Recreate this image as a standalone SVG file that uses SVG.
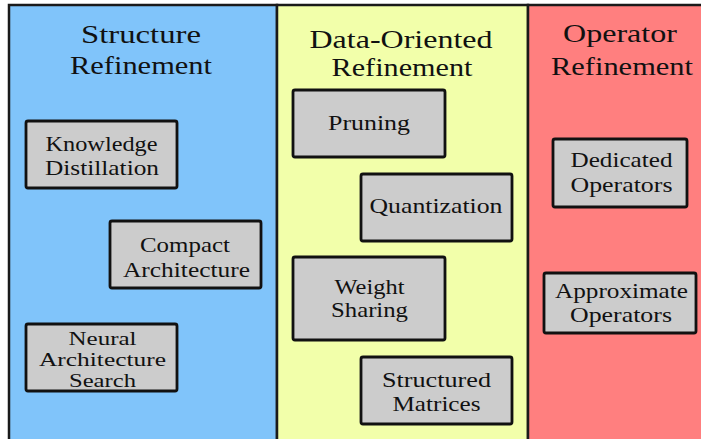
<svg xmlns="http://www.w3.org/2000/svg" width="701" height="439" viewBox="0 0 701 439">
<style>
.panel{stroke:#1a1a1a;stroke-width:2.5}
.box rect{fill:#cccccc;stroke:#111;stroke-width:2.8}
text{fill:#111;text-anchor:middle;font-family:Liberation Serif,DejaVu Serif,Tinos,serif}
.t{font-size:26px}
.b{font-size:21px}
.s{font-size:19px}
</style>
<rect width="701" height="439" fill="#ffffff"/>
<g id="panel-structure">
<rect class="panel" x="9" y="5" width="268" height="445" fill="#80c4fa"/>
<text class="t" x="141" y="43" textLength="120" lengthAdjust="spacingAndGlyphs">Structure</text>
<text class="t" x="141" y="74" textLength="142" lengthAdjust="spacingAndGlyphs">Refinement</text>
</g>
<g id="panel-data">
<rect class="panel" x="277" y="5" width="251" height="445" fill="#f2ffaa"/>
<text class="t" x="401" y="48" textLength="183" lengthAdjust="spacingAndGlyphs">Data-Oriented</text>
<text class="t" x="402" y="76" textLength="141" lengthAdjust="spacingAndGlyphs">Refinement</text>
</g>
<g id="panel-operator">
<rect class="panel" x="528" y="5" width="190" height="445" fill="#ff7f7f"/>
<text class="t" x="620" y="42" textLength="114" lengthAdjust="spacingAndGlyphs">Operator</text>
<text class="t" x="622" y="75" textLength="142" lengthAdjust="spacingAndGlyphs">Refinement</text>
</g>
<g id="knowledge-distillation" class="box">
<rect x="26" y="121" width="151" height="67" rx="2"/>
<text class="b" x="101.5" y="151" textLength="112" lengthAdjust="spacingAndGlyphs">Knowledge</text>
<text class="b" x="102" y="175" textLength="114" lengthAdjust="spacingAndGlyphs">Distillation</text>
</g>
<g id="compact-architecture" class="box">
<rect x="110" y="221" width="151" height="67" rx="2"/>
<text class="b" x="185" y="252" textLength="90" lengthAdjust="spacingAndGlyphs">Compact</text>
<text class="b" x="186.5" y="277" textLength="127" lengthAdjust="spacingAndGlyphs">Architecture</text>
</g>
<g id="neural-architecture-search" class="box">
<rect x="26" y="324" width="151" height="67" rx="2"/>
<text class="s" x="102.5" y="345" textLength="68" lengthAdjust="spacingAndGlyphs">Neural</text>
<text class="s" x="102.5" y="366" textLength="127" lengthAdjust="spacingAndGlyphs">Architecture</text>
<text class="s" x="102.5" y="387" textLength="67" lengthAdjust="spacingAndGlyphs">Search</text>
</g>
<g id="pruning" class="box">
<rect x="293" y="90" width="152" height="67" rx="2"/>
<text class="b" x="369" y="130" textLength="82" lengthAdjust="spacingAndGlyphs">Pruning</text>
</g>
<g id="quantization" class="box">
<rect x="361" y="174" width="151" height="67" rx="2"/>
<text class="b" x="436" y="213" textLength="133" lengthAdjust="spacingAndGlyphs">Quantization</text>
</g>
<g id="weight-sharing" class="box">
<rect x="293" y="257" width="152" height="83" rx="2"/>
<text class="b" x="369.5" y="294" textLength="70" lengthAdjust="spacingAndGlyphs">Weight</text>
<text class="b" x="369.5" y="317" textLength="77" lengthAdjust="spacingAndGlyphs">Sharing</text>
</g>
<g id="structured-matrices" class="box">
<rect x="361" y="357" width="151" height="67" rx="2"/>
<text class="b" x="436.5" y="387" textLength="109" lengthAdjust="spacingAndGlyphs">Structured</text>
<text class="b" x="436.5" y="411" textLength="88" lengthAdjust="spacingAndGlyphs">Matrices</text>
</g>
<g id="dedicated-operators" class="box">
<rect x="553" y="139" width="134" height="68" rx="2"/>
<text class="b" x="621.5" y="167" textLength="102" lengthAdjust="spacingAndGlyphs">Dedicated</text>
<text class="b" x="621.5" y="192" textLength="102" lengthAdjust="spacingAndGlyphs">Operators</text>
</g>
<g id="approximate-operators" class="box">
<rect x="544" y="273" width="152" height="60" rx="2"/>
<text class="b" x="621.5" y="298" textLength="133" lengthAdjust="spacingAndGlyphs">Approximate</text>
<text class="b" x="621" y="322" textLength="102" lengthAdjust="spacingAndGlyphs">Operators</text>
</g>
<g id="connectors"></g>
</svg>
